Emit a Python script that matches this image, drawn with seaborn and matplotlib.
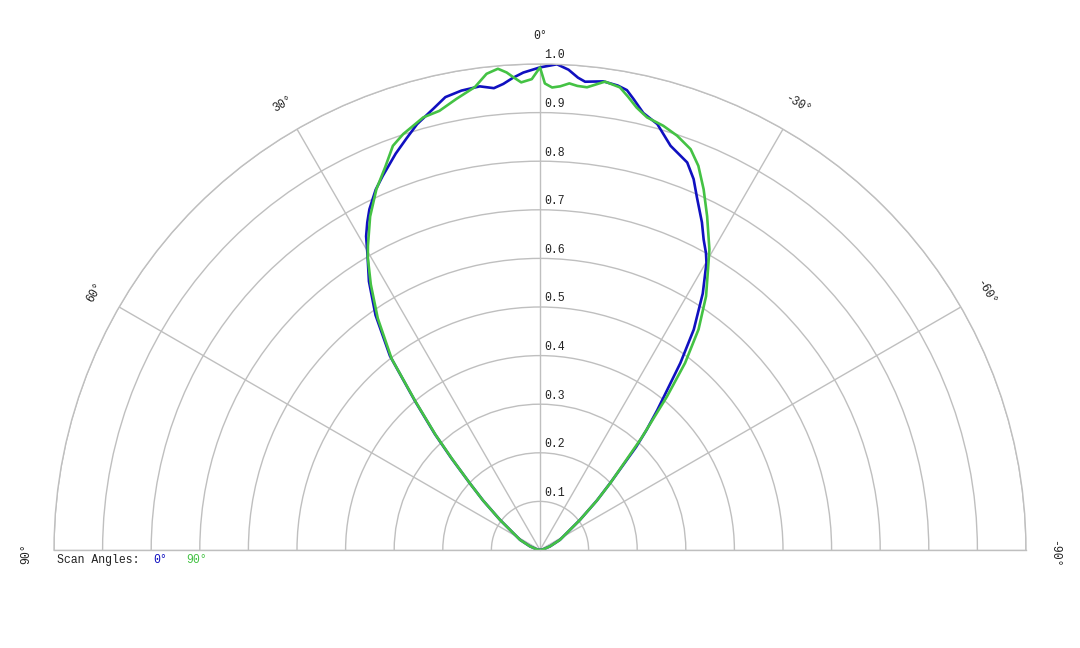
import numpy as np
import pandas as pd
import matplotlib.pyplot as plt
import seaborn as sns

# scan angle 0 deg (blue)
blue_deg = [-90, -80, -70, -63, -53, -49, -46.4, -43, -41.6, -40, -38.8, -36.9, -34.9,
            -32.4, -30.1, -29.2, -27.8, -26.3, -24.0, -22.5, -21.6, -20.8, -17.9, -15.4,
            -13.3, -11.7, -10.7, -9.5, -7.7, -5.5, -4.6, -3.4, -2.0, 0, 2.0, 3.3, 4.5,
            5.7, 7.4, 9.7, 11.8, 13.6, 16.1, 18, 20, 22.8, 24.5, 26.6, 27.8, 29.0, 30.2,
            32.5, 35, 37.7, 40, 42.2, 44, 46.4, 49, 53, 63, 70, 80, 90]
blue_r = [0, 0.006, 0.022, 0.046, 0.103, 0.155, 0.199, 0.29, 0.33, 0.375, 0.41, 0.481, 0.553,
          0.625, 0.683, 0.70, 0.722, 0.752, 0.794, 0.826, 0.840, 0.853, 0.874, 0.909,
          0.924, 0.948, 0.963, 0.969, 0.973, 0.968, 0.975, 0.99, 1.0, 0.993, 0.983, 0.973, 0.962,
          0.955, 0.962, 0.959, 0.952, 0.934, 0.912, 0.89, 0.868, 0.835, 0.815, 0.784, 0.762, 0.738, 0.706,
          0.655, 0.59, 0.505, 0.40, 0.322, 0.262, 0.2, 0.155, 0.103, 0.046, 0.022, 0.006, 0]

# scan angle 90 deg (green)
green_deg = [-90, -80, -70, -63, -53, -49, -46.4, -42.2, -39.6, -37.8, -35.7, -33.2, -30.4,
             -29.4, -26.6, -24.4, -22.4, -20.6, -18.3, -16.2, -13.9, -12.3, -11, -9.8, -7.9,
             -5.8, -4.6, -3.6, -2.5, -1.5, -0.6, 0, 1.0, 2.3, 3.2, 4.0, 5.0, 6.4, 8, 10.5,
             12.9, 15.1, 16.5, 18.2, 20, 22, 24.4, 27, 29.5, 30.5, 32.5, 35, 37.8, 40, 42.2,
             44, 46.4, 49, 53, 63, 70, 80, 90]
green_r = [0, 0.006, 0.022, 0.046, 0.103, 0.155, 0.2, 0.31, 0.41, 0.487, 0.559, 0.624, 0.685,
           0.71, 0.768, 0.815, 0.855, 0.881, 0.898, 0.909, 0.917, 0.932, 0.95, 0.966, 0.973,
           0.957, 0.958, 0.962, 0.955, 0.952, 0.96, 0.993, 0.969, 0.963, 0.974, 0.985, 0.994, 0.986, 0.962, 0.944,
           0.927, 0.922, 0.912, 0.901, 0.885, 0.85, 0.815, 0.77, 0.719, 0.698, 0.648, 0.582, 0.498, 0.398, 0.32,
           0.26, 0.2, 0.155, 0.103, 0.046, 0.022, 0.006, 0]

scan_names = ['0°', '90°']
ring_values = [0.1, 0.2, 0.3, 0.4, 0.5, 0.6, 0.7, 0.8, 0.9, 1.0]
spoke_angles = [90, 60, 30, 0, -30, -60, -90]
spoke_labels = ['90°', '60°', '30°', '0°', '-30°', '-60°', '-90°']

colors = {'0°': '#1010c0', '90°': '#44c244'}
grid_col = '#bfbfbf'

df = pd.concat([
    pd.DataFrame({'theta': np.deg2rad(blue_deg), 'r': blue_r, 'scan': scan_names[0]}),
    pd.DataFrame({'theta': np.deg2rad(green_deg), 'r': green_r, 'scan': scan_names[1]}),
], ignore_index=True)

sns.set_style('white')
plt.rcParams['font.family'] = ['Liberation Mono', 'DejaVu Sans Mono']

W, H = 1080, 648
fig = plt.figure(figsize=(W / 100, H / 100), dpi=100)
# polar axes keeps a square box; the half disc sits in its middle
side = 972
box_top = 64 - side / 4
ax = fig.add_axes([54 / W, 1 - (box_top + side) / H, side / W, side / H], projection='polar')
ax.set_theta_zero_location('N')
ax.set_theta_direction(1)
ax.set_thetamin(-90)
ax.set_thetamax(90)

sns.lineplot(data=df, x='theta', y='r', hue='scan', palette=colors, sort=False,
             estimator=None, legend=False, lw=1.9, ax=ax)
ax.set_rlim(0, 1)
ax.set_xlabel('')
ax.set_ylabel('')

ax.set_rticks(ring_values)
ax.set_thetagrids(spoke_angles)
ax.set_xticklabels([])
ax.set_yticklabels([])
ax.tick_params(length=0)
ax.grid(True, color=grid_col, lw=1.0)
for sp in ax.spines.values():
    sp.set_color(grid_col)
    sp.set_linewidth(1.0)

# ring labels along the 0 deg spoke
for v in ring_values:
    ax.annotate(f'{v:.1f}', xy=(0, v), xytext=(3, 4), textcoords='offset points',
                ha='left', va='baseline', fontsize=8.3, color='#222222')

# spoke labels outside the rim
for a, lab in zip(spoke_angles, spoke_labels):
    dy = -3 if abs(a) == 90 else 0
    ax.annotate(lab, xy=(np.deg2rad(a), 1.058), xytext=(0, dy), textcoords='offset points',
                rotation=a, rotation_mode='anchor', ha='center', va='center',
                fontsize=8.3, color='#222222', annotation_clip=False)

# scan angle key
fig.text(57 / W, 1 - 560 / H, 'Scan Angles:', fontsize=8.3, va='center', ha='left', color='#222222')
fig.text(153 / W, 1 - 560 / H, scan_names[0], fontsize=8.3, va='center', ha='left', color=colors['0°'])
fig.text(186 / W, 1 - 560 / H, scan_names[1], fontsize=8.3, va='center', ha='left', color=colors['90°'])

fig.savefig('out.png', dpi=100, facecolor='white')
